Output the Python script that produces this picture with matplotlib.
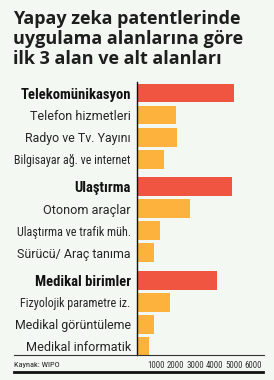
import matplotlib
matplotlib.use("Agg")
import matplotlib.pyplot as plt
from matplotlib.lines import Line2D
from matplotlib import font_manager as fm

# ---- data ----
labels = ["Telekomünikasyon", "Telefon hizmetleri", "Radyo ve Tv. Yayını",
          "Bilgisayar ağ. ve internet",
          "Ulaştırma", "Otonom araçlar", "Ulaştırma ve trafik müh.",
          "Sürücü/ Araç tanıma",
          "Medikal birimler", "Fizyolojik parametre iz.", "Medikal görüntüleme",
          "Medikal informatik"]
values = [5000, 2000, 2050, 1400,
          4900, 2750, 1200, 850,
          4100, 1700, 850, 600]
is_main = [True, False, False, False,
           True, False, False, False,
           True, False, False, False]
xticks = [1000, 2000, 3000, 4000, 5000, 6000]
title_lines = ["Yapay zeka patentlerinde", "uygulama alanlarına göre",
               "ilk 3 alan ve alt alanları"]
source = "Kaynak: WIPO"

# ---- style ----
BG = "#f3f8f3"
RED = "#f05542"
ORANGE = "#fdb23d"
W, H = 274, 380
# label widths in the original graphic (pixels), used to fit the font size
label_px = [115, 101, 106, 117, 62, 87, 115, 114, 103, 111, 118, 105]


def pick(*names):
    for n in names:
        try:
            fm.findfont(fm.FontProperties(family=n), fallback_to_default=False)
            return n
        except Exception:
            pass
    return "DejaVu Sans"


REG = pick("Roboto", "DejaVu Sans")
COND = pick("Roboto Condensed", "Noto Sans Condensed", "DejaVu Sans")
XCOND = pick("Noto Sans ExtraCondensed", "Roboto Condensed", "DejaVu Sans")
BOLDC = pick("Roboto Condensed", "DejaVu Sans")

fig = plt.figure(figsize=(W / 100, H / 100), dpi=100, facecolor=BG)

pos = []
g = 0
for i, m in enumerate(is_main):
    if m and i > 0:
        g += 1
    pos.append(i + 0.25 * g)

ax = fig.add_axes([137 / W, 1 - 355 / H, (273 - 137) / W, (355 - 82) / H])
ax.set_facecolor(BG)
colors = [RED if m else ORANGE for m in is_main]
ax.barh(pos, values, height=0.86, color=colors, zorder=2)
ax.set_xlim(0, 7000)
ax.set_ylim(pos[-1] + 0.4, -0.5)

for s in ["top", "right", "bottom"]:
    ax.spines[s].set_visible(False)
ax.spines["left"].set_color("#111111")
ax.spines["left"].set_linewidth(1.0)

ax.set_xticks(xticks)
ax.set_xticklabels([str(t) for t in xticks], fontsize=6.4, color="#333333",
                   family=XCOND)
ax.tick_params(axis="x", length=0, pad=4.5)

ax.set_yticks(pos)
ax.set_yticklabels(labels)
ax.tick_params(axis="y", length=0, pad=4.5)
long_idx = {3, 6, 9}
for i, (lab, m) in enumerate(zip(ax.get_yticklabels(), is_main)):
    if m:
        lab.set_family(BOLDC)
        lab.set_fontweight("bold")
        lab.set_fontsize(10)
        lab.set_color("#111111")
    else:
        lab.set_family(COND if i in long_idx else REG)
        lab.set_fontsize(9)
        lab.set_color("#262626")

# fit label font sizes to the widths of the original
renderer = fig.canvas.get_renderer()
for i, lab in enumerate(ax.get_yticklabels()):
    w = lab.get_window_extent(renderer).width
    if w > 0:
        s = lab.get_fontsize() * label_px[i] / w
        lab.set_fontsize(max(7.5, min(10.5, s)))

for line, base in zip(title_lines, [24, 44, 64]):
    fig.text(13 / W, 1 - base / H, line, ha="left", va="baseline", fontsize=13.0,
             fontweight="bold", family=["Open Sans", "DejaVu Sans"],
             color="#1e1e1e")

fig.text(14 / W, 1 - 365 / H, source, ha="left", va="center", fontsize=6.0,
         family=XCOND, color="#222222")

fig.add_artist(Line2D([14 / W, 264 / W], [1 - 355 / H, 1 - 355 / H],
                      transform=fig.transFigure, color="#333333", linewidth=0.8))
fig.add_artist(Line2D([14 / W, 263 / W], [1 - 372 / H, 1 - 372 / H],
                      transform=fig.transFigure, color="#111111", linewidth=2.0))

fig.savefig("out.png", dpi=100, facecolor=BG)
